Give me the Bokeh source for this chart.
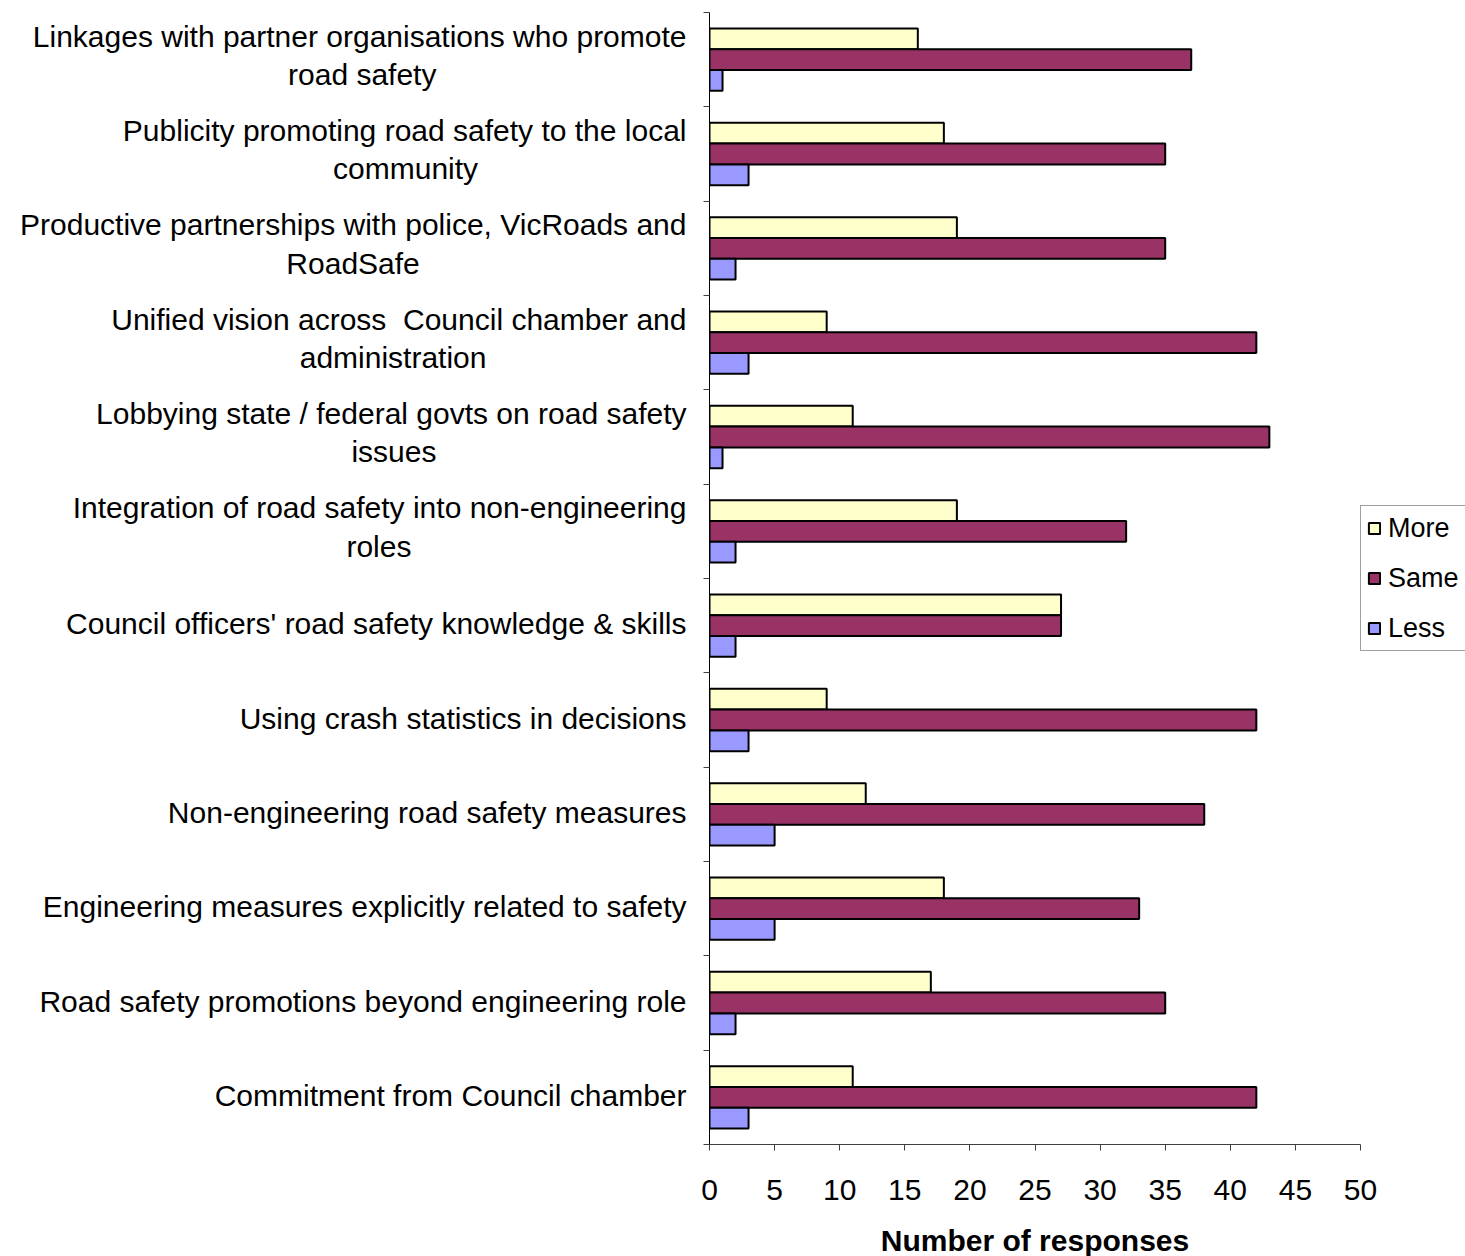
from bokeh.plotting import figure
from bokeh.models import Range1d, FixedTicker, ColumnDataSource, Legend, LegendItem
from bokeh.embed import file_html
from bokeh.resources import INLINE

# ---- data (top to bottom as displayed) ----
categories = [
    "Linkages with partner organisations who promote\nroad safety",
    "Publicity promoting road safety to the local\ncommunity",
    "Productive partnerships with police, VicRoads and\nRoadSafe",
    "Unified vision across  Council chamber and\nadministration",
    "Lobbying state / federal govts on road safety\nissues",
    "Integration of road safety into non-engineering\nroles",
    "Council officers' road safety knowledge & skills",
    "Using crash statistics in decisions",
    "Non-engineering road safety measures",
    "Engineering measures explicitly related to safety",
    "Road safety promotions beyond engineering role",
    "Commitment from Council chamber",
]
more = [16, 18, 19, 9, 11, 19, 27, 9, 12, 18, 17, 11]
same = [37, 35, 35, 42, 43, 32, 27, 42, 38, 33, 35, 42]
less = [1, 3, 2, 3, 1, 2, 2, 3, 5, 5, 2, 3]
series_names = ["More", "Same", "Less"]
series_colors = ["#FFFFCC", "#993366", "#9999FF"]
x_ticks = [0, 5, 10, 15, 20, 25, 30, 35, 40, 45, 50]
x_title = "Number of responses"

FONT = "Liberation Sans"
FS = 30

# Arial / Liberation Sans advance widths (1/1000 em) to centre the second line
_W = {" ": 278, ",": 278, "/": 278, "-": 333, "&": 667, "'": 191, ".": 278}
_W.update(dict(zip("abcdefghijklmnopqrstuvwxyz",
                   [556, 556, 500, 556, 556, 278, 556, 556, 222, 222, 500, 222, 833,
                    556, 556, 556, 556, 333, 500, 278, 556, 500, 722, 500, 500, 500])))
_W.update(dict(zip("ABCDEFGHIJKLMNOPQRSTUVWXYZ",
                   [667, 667, 722, 722, 667, 611, 778, 722, 278, 500, 667, 556, 833,
                    722, 778, 667, 778, 722, 667, 611, 722, 667, 944, 667, 667, 611])))


def text_w(s):
    return sum(_W.get(ch, 556) for ch in s)


def axis_label(s):
    lines = s.replace("  ", " \u00a0").split("\n")
    if len(lines) == 1:
        return lines[0]
    w1, w2 = text_w(lines[0]), text_w(lines[1])
    pad = int(round((w1 - w2) / 2 / 278))
    return lines[0] + "\n" + lines[1] + "\u00a0" * pad


n = len(categories)
centers = [n - i for i in range(n)]          # top category highest
boundaries = [k + 0.5 for k in range(n + 1)]
bar_h = 0.22
offsets = [bar_h, 0.0, -bar_h]

# small upward nudge of the (invisible) label ticks so text sits like the original
label_pos = [c + (0.045 if "\n" in lab else 0.02) for c, lab in zip(centers, categories)]

p = figure(
    frame_width=651, frame_height=1132,
    min_border_left=709, min_border_right=104, min_border_top=12, min_border_bottom=110,
    x_range=Range1d(0, 50), y_range=Range1d(0.5, n + 0.5),
    output_backend="svg", toolbar_location=None,
)
p.outline_line_color = None
p.grid.visible = False
p.background_fill_color = "white"
p.border_fill_color = "white"

items = []
for name, vals, color, off in zip(series_names, [more, same, less], series_colors, offsets):
    src = ColumnDataSource(dict(y=[c + off for c in centers], right=vals))
    r = p.hbar(y="y", left=0, right="right", height=bar_h, source=src,
               fill_color=color, line_color="black", line_width=2)
    items.append(LegendItem(label=name, renderers=[r]))

# x axis
xa = p.xaxis[0]
xa.ticker = FixedTicker(ticks=x_ticks)
xa.axis_label = x_title
xa.axis_label_text_font = FONT
xa.axis_label_text_font_style = "bold"
xa.axis_label_text_font_size = f"{FS}px"
xa.axis_label_text_color = "black"
xa.axis_label_standoff = 21
xa.major_label_text_font = FONT
xa.major_label_text_font_size = f"{FS}px"
xa.major_label_text_color = "black"
xa.major_label_standoff = 29
xa.major_tick_out = 6
xa.major_tick_in = 0
xa.minor_tick_out = 0
xa.minor_tick_in = 0
xa.axis_line_color = "#404040"
xa.major_tick_line_color = "#404040"

# y axis: labels at centers, ticks at boundaries
ya = p.yaxis[0]
ya.ticker = FixedTicker(ticks=label_pos, minor_ticks=boundaries)
ya.major_label_overrides = {c: axis_label(lab) for c, lab in zip(label_pos, categories)}
ya.major_label_text_font = FONT
ya.major_label_text_font_size = f"{FS}px"
ya.major_label_text_color = "black"
ya.major_label_text_line_height = 1.16
ya.major_label_standoff = 17
ya.major_tick_out = 0
ya.major_tick_in = 0
ya.minor_tick_out = 6
ya.minor_tick_in = 0
ya.axis_line_color = "black"
ya.minor_tick_line_color = "#404040"

legend = Legend(
    items=items, location="center_left",
    label_text_font=FONT, label_text_font_size="27px", label_text_color="black",
    glyph_width=14, glyph_height=14, label_height=32, label_standoff=7,
    spacing=18, padding=6, margin=0,
    border_line_color="#404040", border_line_width=1,
    background_fill_color="white", background_fill_alpha=1.0,
)
p.add_layout(legend, "right")

open("out.html", "w").write(file_html(p, INLINE))
